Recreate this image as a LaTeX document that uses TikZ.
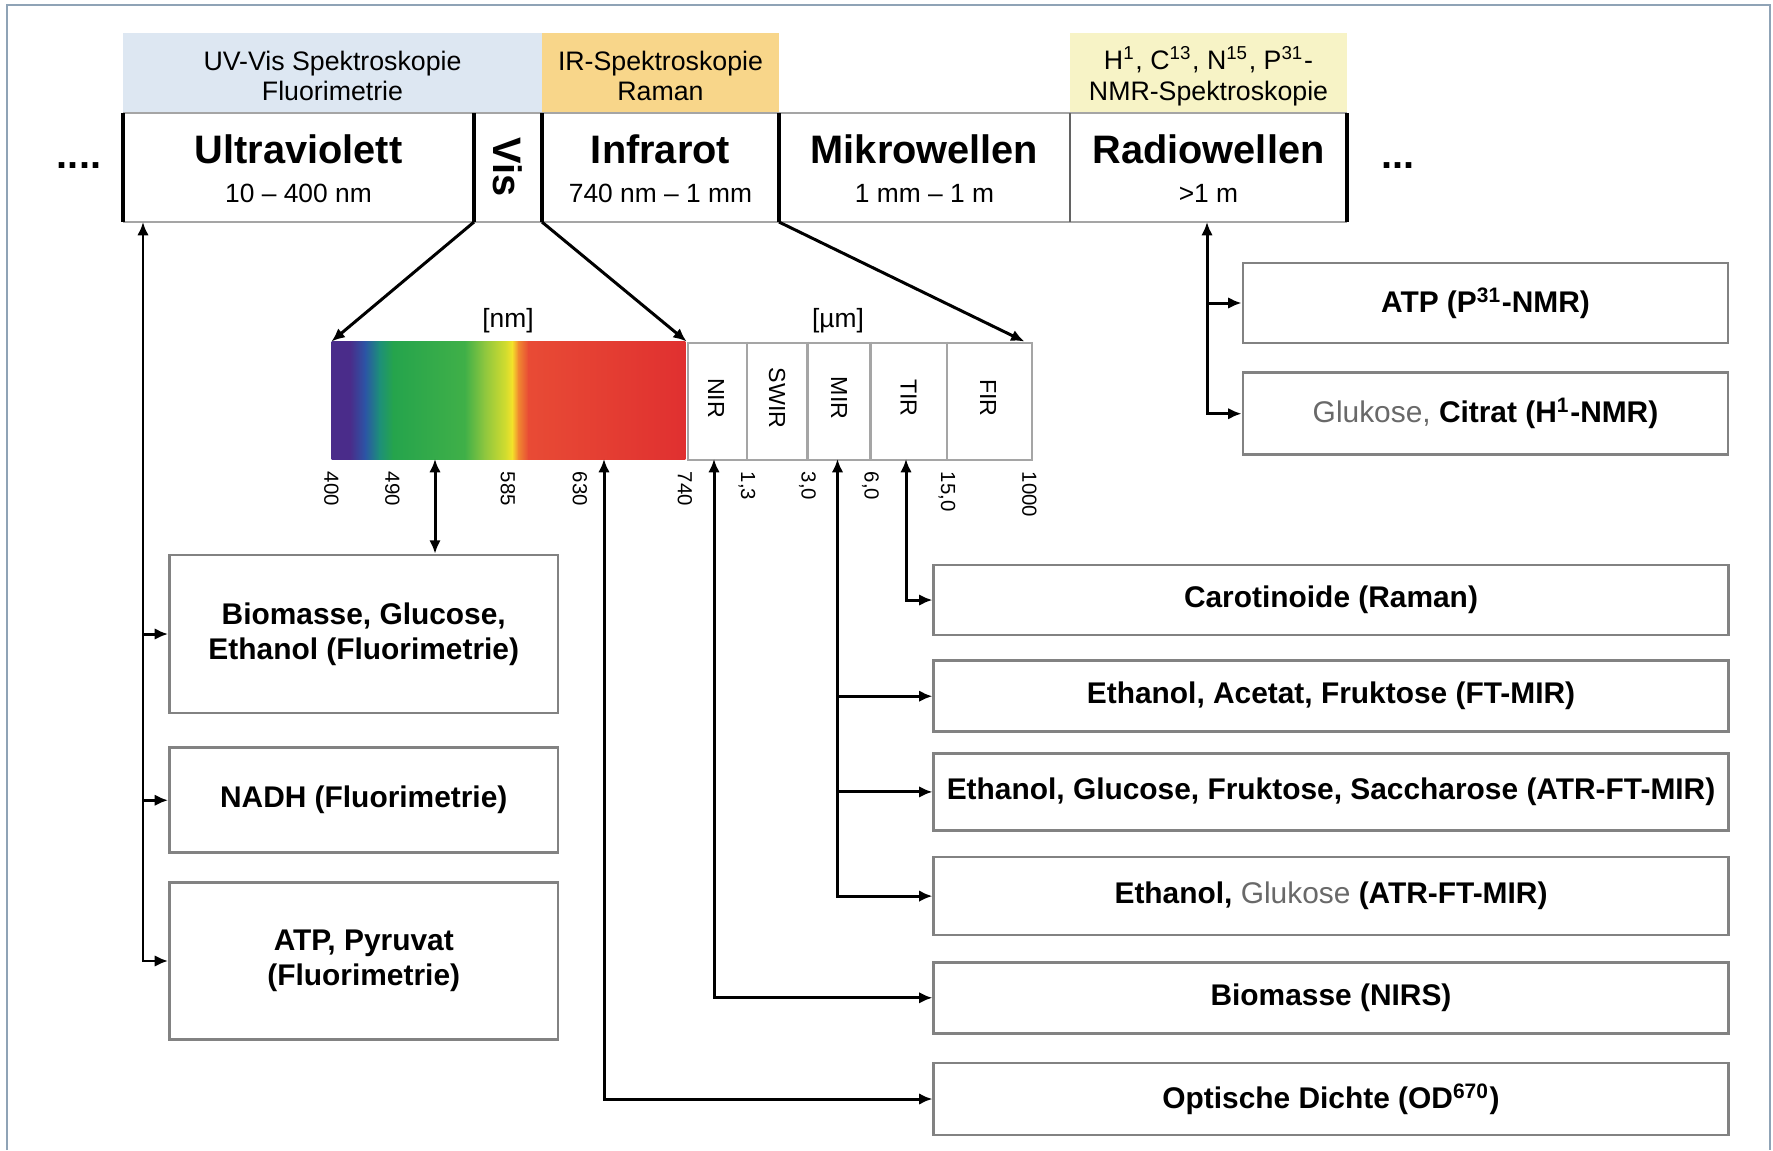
\documentclass[tikz,border=0pt]{standalone}
\usepackage{fontspec}
\setmainfont{Liberation Sans}
\usetikzlibrary{arrows.meta,calc,positioning}
\definecolor{framecol}{RGB}{143,163,182}
\definecolor{uvhead}{RGB}{221,231,242}
\definecolor{irhead}{RGB}{248,214,138}
\definecolor{nmrhead}{RGB}{247,243,198}
\definecolor{boxgray}{RGB}{130,130,130}
\definecolor{linegray}{RGB}{165,165,165}
\definecolor{txtgray}{RGB}{105,105,105}
\definecolor{spviolet}{RGB}{74,44,138}
\definecolor{spblue}{RGB}{43,85,165}
\definecolor{spteal}{RGB}{29,143,122}
\definecolor{spgreen}{RGB}{37,164,76}
\definecolor{spgreenb}{RGB}{64,176,72}
\definecolor{splime}{RGB}{140,198,63}
\definecolor{spylime}{RGB}{212,220,46}
\definecolor{spyellow}{RGB}{244,226,42}
\definecolor{sporange}{RGB}{240,138,48}
\definecolor{spredor}{RGB}{232,75,53}
\definecolor{spred}{RGB}{224,48,48}

\begin{document}
\begin{tikzpicture}[x=0.01cm,y=-0.01cm,>={Latex[length=3.8pt,width=3.3pt]},
  conn/.style={line width=0.85pt},
  bandsep/.style={line width=1.1pt},
  headtxt/.style={font=\fontsize{7.6}{8.7}\selectfont,align=center},
  bandtxt/.style={font=\bfseries\fontsize{11.3}{13}\selectfont,anchor=base},
  rangetxt/.style={font=\fontsize{7.5}{9}\selectfont,anchor=base},
  resbox/.style={draw=boxgray,line width=0.75pt,fill=white,inner sep=1pt,align=center,font=\bfseries\fontsize{8.5}{10}\selectfont},
  ticklbl/.style={rotate=-90,anchor=west,font=\fontsize{5.8}{6.5}\selectfont,inner sep=0pt},
  irlbl/.style={rotate=-90,font=\fontsize{6.6}{8}\selectfont}]
\useasboundingbox (0,0) rectangle (1773,1150);
\fill[white] (0,0) rectangle (1773,1150);
\draw[framecol,line width=0.8pt] (7,1150) -- (7,5) -- (1770,5) -- (1770,1150);

\fill[uvhead] (123,33) rectangle (542,113);
\fill[irhead] (542,33) rectangle (779,113);
\fill[nmrhead] (1070,33) rectangle (1347,113);
\node[headtxt] (uvhd) at (332.5,76) {UV-Vis Spektroskopie\\Fluorimetrie};
\node[headtxt] (irhd) at (660.5,76) {IR-Spektroskopie\\Raman};
\node[headtxt] (nmrhd) at (1208.5,76) {H\textsuperscript{1}, C\textsuperscript{13}, N\textsuperscript{15}, P\textsuperscript{31}-\\NMR-Spektroskopie};

\draw[linegray,line width=0.6pt] (123,113) -- (1347,113) (123,222) -- (1347,222);
\foreach \x in {123,474,542,779,1347} \draw[bandsep] (\x,113) -- (\x,222);
\draw[linegray!60!black,line width=0.6pt] (1070,113) -- (1070,222);

\node[bandtxt] (uv) at (298.5,163) {Ultraviolett};
\node[rangetxt] (uvr) at (298.5,202) {10 -- 400 nm};
\node[bandtxt,rotate=-90,anchor=center] (vis) at (508,167) {Vis};
\node[bandtxt] (ir) at (660.5,163) {Infrarot};
\node[rangetxt] (irr) at (660.5,202) {740 nm -- 1 mm};
\node[bandtxt] (mw) at (924.5,163) {Mikrowellen};
\node[rangetxt] (mwr) at (924.5,202) {1 mm -- 1 m};
\node[bandtxt] (rw) at (1208.5,163) {Radiowellen};
\node[rangetxt] (rwr) at (1208.5,202) {>1 m};
\node[bandtxt,anchor=center] (dotsl) at (79,166) {....};
\node[bandtxt,anchor=center] (dotsr) at (1398,166) {...};

\foreach \a/\b/\ca/\cb in {331.5/350/spviolet/spviolet,350/365/spviolet/spblue,365/379/spblue/spteal,379/393/spteal/spgreen,393/464.8/spgreen/spgreenb,464.8/484/spgreenb/splime,484/506/splime/spylime,506/512/spylime/spyellow,512/518/spyellow/sporange,518/528/sporange/spredor,528/685/spredor/spred}
  \shade[left color=\ca,right color=\cb] (\a,341.5) rectangle (\b+0.4,459);
\node[minimum width=3.535cm,minimum height=1.175cm,inner sep=0pt,anchor=north west] (spec) at (331.5,341.5) {};
\node[draw=linegray,line width=0.6pt,minimum width=3.445cm,minimum height=1.175cm,inner sep=0pt,anchor=north west] (irbox) at (spec.north east) {};
\foreach \x in {747,807.5,870.5,947} \draw[linegray,line width=0.6pt] (\x,341.5) -- (\x,459);
\foreach \x/\t in {716/NIR,777/SWIR,839/MIR,908.5/TIR,988/FIR} \node[irlbl] (\t) at (\x,398) {\t};
\node[font=\fontsize{7.5}{9}\selectfont] (nm) at (508,321) {[nm]};
\node[font=\fontsize{7.5}{9}\selectfont] (um) at (838,321) {[µm]};
\foreach \x/\t [count=\i] in {331.5/400,392.5/490,508/585,580/630,685/740,747/{1,3},807.5/{3,0},870.5/{6,0},947/{15,0},1029.5/1000}
  \node[ticklbl] (tk\i) at (\x,471) {\t};

\coordinate (visL) at (474,222);
\coordinate (visR) at (542,222);
\coordinate (irR) at (779,222);
\draw[conn,->] (visL) -- (spec.north west);
\draw[conn,->] (visR) -- (spec.north east);
\draw[conn,->] (irR) -- ($(irbox.north east)+(-9,0)$);

\node[resbox,minimum width=3.885cm,minimum height=1.58cm] (biom) at (363.75,634) {Biomasse, Glucose,\\Ethanol (Fluorimetrie)};
\node[resbox,minimum width=3.885cm,minimum height=1.05cm,below=0.32cm of biom] (nadh) {NADH (Fluorimetrie)};
\node[resbox,minimum width=3.885cm,minimum height=1.57cm,below=0.27cm of nadh] (atpf) {ATP, Pyruvat\\(Fluorimetrie)};

\node[resbox,minimum width=7.94cm,minimum height=0.70cm] (caro) at (1331,600) {Carotinoide (Raman)};
\node[resbox,minimum width=7.94cm,minimum height=0.71cm,below=0.23cm of caro] (ftmir) {Ethanol, Acetat, Fruktose (FT-MIR)};
\node[resbox,minimum width=7.94cm,minimum height=0.77cm,below=0.19cm of ftmir] (atr) {Ethanol, Glucose, Fruktose, Saccharose (ATR-FT-MIR)};
\node[resbox,minimum width=7.94cm,minimum height=0.78cm,below=0.24cm of atr] (eglu) {Ethanol, {\mdseries\color{txtgray}Glukose} (ATR-FT-MIR)};
\node[resbox,minimum width=7.94cm,minimum height=0.71cm,below=0.245cm of eglu] (nirs) {Biomasse (NIRS)};
\node[resbox,minimum width=7.94cm,minimum height=0.72cm,below=0.27cm of nirs] (od) {Optische Dichte (OD\textsuperscript{670})};

\node[resbox,minimum width=4.85cm,minimum height=0.80cm] (atpnmr) at (1485.5,303) {ATP (P\textsuperscript{31}-NMR)};
\node[resbox,minimum width=4.85cm,minimum height=0.82cm,below=0.27cm of atpnmr] (gluc) {{\mdseries\color{txtgray}Glukose,} Citrat (H\textsuperscript{1}-NMR)};

\coordinate (uvB) at (143,222);
\draw[conn,<->] (uvB) |- (atpf.west);
\draw[conn,->] (uvB |- biom.west) -- (biom.west);
\draw[conn,->] (uvB |- nadh.west) -- (nadh.west);

\coordinate (pfl) at (435,459);
\coordinate (pod) at (604,459);
\coordinate (pnir) at (714,459);
\coordinate (pmir) at (837.5,459);
\coordinate (ptir) at (906,459);
\draw[conn,<->] (pfl) -- (pfl |- biom.north);
\draw[conn,<->] (pod) |- (od.west);
\draw[conn,<->] (pnir) |- (nirs.west);
\draw[conn,<->] (pmir) |- (eglu.west);
\draw[conn,->] (pmir |- ftmir.west) -- (ftmir.west);
\draw[conn,->] (pmir |- atr.west) -- (atr.west);
\draw[conn,<->] (ptir) |- (caro.west);

\coordinate (rwB) at (1207,222);
\draw[conn,<->] (rwB) |- (gluc.west);
\draw[conn,->] (rwB |- atpnmr.west) -- (atpnmr.west);
\end{tikzpicture}
\end{document}
